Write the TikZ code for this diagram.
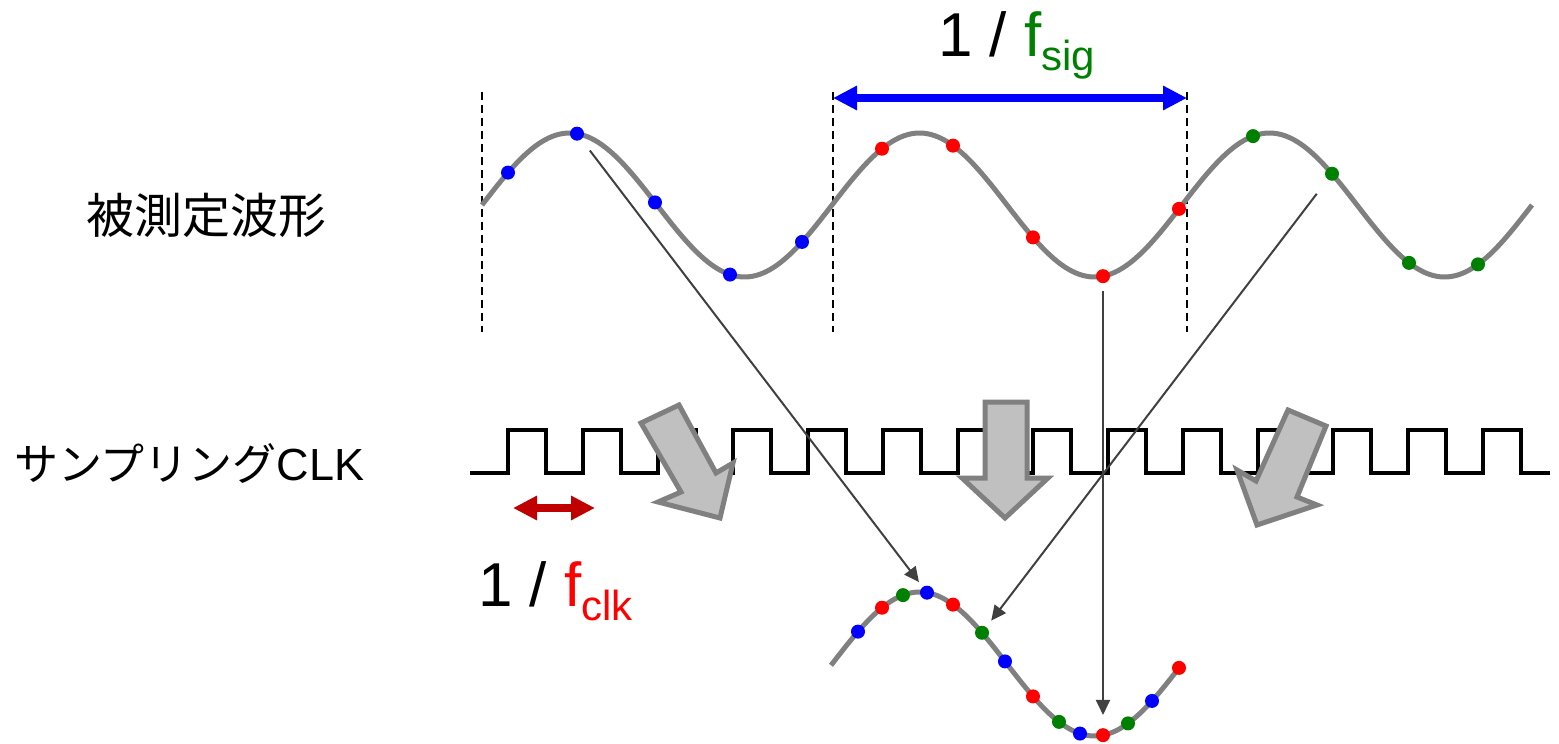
\documentclass[tikz,border=0pt]{standalone}
\usepackage{fontspec}
\setmainfont{Liberation Sans}
\newfontfamily\jpfont{Noto Sans CJK JP}
\usetikzlibrary{arrows.meta}
\definecolor{wavegray}{HTML}{808080}
\definecolor{blockfill}{HTML}{C0C0C0}
\definecolor{blockedge}{HTML}{808080}
\definecolor{darkline}{HTML}{404040}
\definecolor{clkred}{HTML}{C00000}
\definecolor{siggreen}{HTML}{008000}
\definecolor{dotgreen}{HTML}{008000}
\newcommand\subtxt[1]{\raisebox{-14pt}{\fontsize{42}{42}\selectfont #1}}
\begin{document}
\begin{tikzpicture}[x=1pt,y=-1pt,
  declare function={topy(\t)=205-72*sin((\t-482)*1.0285714);},
  wave/.style={draw=wavegray, line width=5pt, line cap=butt},
  dot/.style={circle, inner sep=0pt, minimum size=14pt, draw=none},
  guide/.style={draw=black, line width=2.8pt, dash pattern=on 8pt off 5pt},
  clockline/.style={draw=black, line width=4pt},
  blockarrow/.style={fill=blockfill, draw=blockedge, line width=5pt, line join=miter},
  bigdouble/.style={line width=8pt, {Triangle[length=24pt,width=23pt]}-{Triangle[length=24pt,width=23pt]}},
  thinarrow/.style={draw=darkline, line width=2pt, -{Triangle[length=15pt,width=14pt]}},
  biglabel/.style={anchor=base west, inner sep=0pt, font=\fontsize{62}{72}\selectfont},
]
\useasboundingbox (0,0) rectangle (1559,744);

% guide lines
\coordinate (g1t) at (482,92);  \coordinate (g1b) at (482,332);
\coordinate (g2t) at (833,92);  \coordinate (g2b) at (833,332);
\coordinate (g3t) at (1187,92); \coordinate (g3b) at (1187,332);
\draw[guide] (g1t) -- (g1b);
\draw[guide] (g2t) -- (g2b);
\draw[guide] (g3t) -- (g3b);

% period arrow
\coordinate (pa) at (833,98);
\coordinate (pb) at (1187,98);
\draw[bigdouble, draw=blue, fill=blue] (pa) -- (pb);

% measured waveform
\draw[wave] plot[domain=482:1532, samples=300] (\x,{topy(\x)});

% samples on measured waveform
\foreach \n/\xx in {1/508,2/577,3/655,4/730,5/802}
  \node[dot, fill=blue] (tb\n) at (\xx,{topy(\xx)}) {};
\foreach \n/\xx in {1/882,2/953,3/1033,4/1103,5/1179}
  \node[dot, fill=red] (tr\n) at (\xx,{topy(\xx)}) {};
\foreach \n/\xx in {1/1253,2/1332,3/1409,4/1478}
  \node[dot, fill=dotgreen] (tg\n) at (\xx,{topy(\xx)}) {};

% sampling clock
\draw[clockline] (470,473) \foreach \k in {0,...,13} { -- ({508+75*\k},473) -- ++(0,-43) -- ++(38,0) -- ++(0,43) } -- (1550,473);

% block arrows
\draw[blockarrow] (641,423) -- (679,405) -- (716,473) -- (733,463) -- (720,518) -- (658,502) -- (681,492) -- cycle;
\draw[blockarrow] (985,402) -- (1027,402) -- (1027,478) -- (1048,478) -- (1005,518) -- (962,478) -- (985,478) -- cycle;
\draw[blockarrow] (1288,410) -- (1326,426) -- (1297,497) -- (1317,505) -- (1257,525) -- (1237,470) -- (1256,481) -- cycle;

% clock period arrow
\coordinate (ca) at (513,508);
\coordinate (cb) at (595,508);
\draw[bigdouble, draw=clkred, fill=clkred] (ca) -- (cb);

% reconstructed waveform
\draw[wave] plot[domain=831:1180, samples=150] (\x,{topy(\x)+459});
\foreach \n/\xx in {1/858,2/927,3/1005,4/1080,5/1152}
  \node[dot, fill=blue] (bb\n) at (\xx,{topy(\xx)+459}) {};
\foreach \n/\xx in {1/882,2/953,3/1033,4/1103,5/1179}
  \node[dot, fill=red] (br\n) at (\xx,{topy(\xx)+459}) {};
\foreach \n/\xx in {1/903,2/982,3/1059,4/1128}
  \node[dot, fill=dotgreen] (bg\n) at (\xx,{topy(\xx)+459}) {};

% mapping arrows
\draw[thinarrow, shorten <=14pt, shorten >=6pt] (tb2) -- (bb2);
\draw[thinarrow, shorten <=18pt, shorten >=8pt] (tg2) -- (bg2);
\draw[thinarrow, shorten <=8pt, shorten >=13pt] (tr4) -- (br4);

% labels
\node[anchor=base west, inner sep=0pt, font=\jpfont\fontsize{48}{56}\selectfont] (lw) at (86,233) {被測定波形};
\node[anchor=base west, inner sep=0pt] (lc) at (14,480) {{\jpfont\fontsize{44}{52}\selectfont サンプリング}{\fontsize{45}{52}\selectfont CLK}};
\node[biglabel] (ls) at (938,56) {1 / \textcolor{siggreen}{f\subtxt{sig}}};
\node[biglabel] (lk) at (478,606) {1 / \textcolor{red}{f\subtxt{clk}}};
\end{tikzpicture}
\end{document}
